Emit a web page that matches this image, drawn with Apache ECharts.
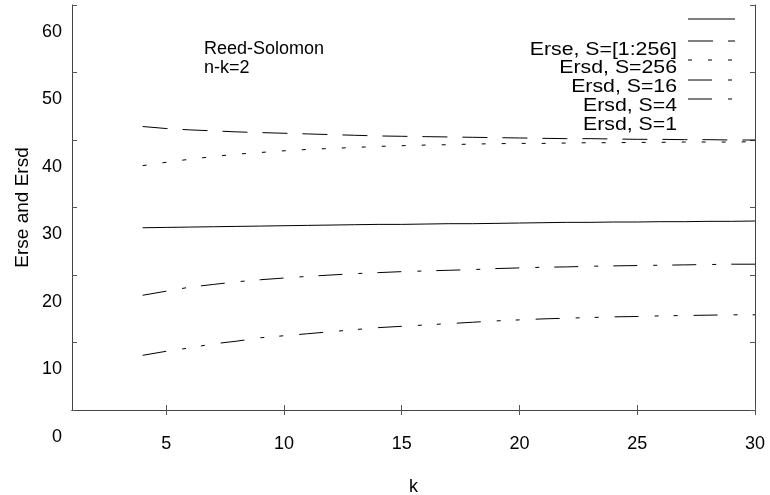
<!DOCTYPE html>
<html>
<head>
<meta charset="utf-8">
<script src="https://cdn.jsdelivr.net/npm/echarts@6/dist/echarts.min.js"></script>
<style>
html,body{margin:0;padding:0;background:#fff;}
#chart{width:770px;height:495px;}
</style>
</head>
<body>
<div id="chart"></div>
<script>
// ---- data ----
const kValues = [4,5,6,7,8,9,10,11,12,13,14,15,16,17,18,19,20,21,22,23,24,25,26,27,28,29,30];
const erseAll = [27.0,27.05,27.1,27.15,27.2,27.25,27.3,27.35,27.4,27.45,27.5,27.5,27.55,27.6,27.6,27.65,27.7,27.75,27.8,27.8,27.85,27.85,27.9,27.9,27.95,27.95,28.0];
const ersdS256 = [42.0,41.7,41.5,41.35,41.2,41.1,41.0,40.9,40.8,40.7,40.6,40.55,40.5,40.45,40.4,40.35,40.3,40.25,40.2,40.2,40.15,40.1,40.1,40.05,40.05,40.0,40.0];
const ersdS16 = [36.2,36.7,37.15,37.55,37.9,38.15,38.4,38.6,38.75,38.9,39.05,39.15,39.25,39.3,39.4,39.45,39.5,39.5,39.55,39.6,39.6,39.65,39.65,39.7,39.7,39.7,39.75];
const ersdS4 = [17.0,17.6,18.2,18.6,19.0,19.3,19.55,19.8,20.0,20.2,20.35,20.5,20.6,20.7,20.8,20.95,21.05,21.15,21.2,21.3,21.35,21.4,21.45,21.5,21.55,21.6,21.6];
const ersdS1 = [8.1,8.7,9.2,9.8,10.2,10.7,11.0,11.3,11.6,11.9,12.2,12.4,12.6,12.8,13.0,13.2,13.35,13.5,13.6,13.7,13.8,13.85,13.95,14.0,14.05,14.1,14.1];
const seriesNames = ['Erse, S=[1:256]','Ersd, S=256','Ersd, S=16','Ersd, S=4','Ersd, S=1'];
const xTicks = [5,10,15,20,25,30];
const yTicks = [0,10,20,30,40,50,60];
const annotation = ['Reed-Solomon','n-k=2'];
const xTitle = 'k';
const yTitle = 'Erse and Ersd';

// ---- styles ----
const FONT = '"Liberation Sans", Arial, sans-serif';
const FS = 18;       // axis numbers and annotation
const TFS = 18.5;    // legend texts (horizontally stretched)
const SX = 1.15;
const dashes = ['solid',[25,15],[4,16],[24,16,4,15],[24,16,4,15,4,16]];
const allData = [erseAll, ersdS256, ersdS16, ersdS4, ersdS1];

const chart = echarts.init(document.getElementById('chart'), null, {renderer:'canvas'});

const borderLine = {show:true, lineStyle:{color:'#444', width:1}};
const tickIn = {show:true, inside:true, length:5, lineStyle:{color:'#555', width:1}};

const series = allData.map((arr,i)=>({
  name: seriesNames[i],
  type:'line',
  xAxisIndex:0, yAxisIndex:0,
  data: kValues.map((k,j)=>[k,arr[j]]),
  showSymbol:false,
  symbol:'none',
  lineStyle:{color:'#000', width:1, type:dashes[i]},
  animation:false,
  silent:true
}));

// legend drawn as graphic (text rows shifted like the original)
const legendGraphics = [];
const sampleY = [19,41,60,80,99];
const textY = [50,68,87,106,125];
for (let i=0;i<5;i++){
  legendGraphics.push({
    type:'line', silent:true,
    shape:{x1:688,y1:sampleY[i],x2:735,y2:sampleY[i]},
    style:{stroke:'#000', lineWidth:1, lineDash: i===0?null:dashes[i]}
  });
  legendGraphics.push({
    type:'text', silent:true,
    x:677, y:textY[i], scaleX:SX,
    style:{text:seriesNames[i], font: TFS+'px '+FONT, fill:'#000', textAlign:'right', textVerticalAlign:'middle'}
  });
}
legendGraphics.push({
  type:'text', silent:true, x:204, y:49,
  style:{text:annotation[0], font: FS+'px '+FONT, fill:'#000', textAlign:'left', textVerticalAlign:'middle'}
});
legendGraphics.push({
  type:'text', silent:true, x:204, y:68,
  style:{text:annotation[1], font: FS+'px '+FONT, fill:'#000', textAlign:'left', textVerticalAlign:'middle'}
});

const option = {
  backgroundColor:'#fff',
  animation:false,
  grid:[
    {left:72, right:15, top:5, bottom:85, containLabel:false, outerBoundsMode:'none'},
    {left:72, right:15, top:32, bottom:58, containLabel:false, outerBoundsMode:'none'}
  ],
  xAxis:[{
    type:'value', min:1, max:30, position:'bottom', gridIndex:0,
    name:xTitle, nameLocation:'middle', nameGap:68,
    nameTextStyle:{fontFamily:FONT, fontSize:FS, color:'#000'},
    axisLine:borderLine,
    axisTick:Object.assign({customValues:xTicks}, tickIn),
    axisLabel:{customValues:xTicks, margin:25, fontFamily:FONT, fontSize:FS, color:'#000'},
    splitLine:{show:false}
  },{
    type:'value', min:1, max:30, position:'top', gridIndex:0,
    axisLine:borderLine,
    axisTick:Object.assign({customValues:xTicks}, tickIn),
    axisLabel:{show:false},
    splitLine:{show:false}
  },{
    type:'value', min:1, max:30, gridIndex:1, show:false
  }],
  yAxis:[{
    type:'value', min:0, max:60, interval:10, position:'left', gridIndex:0,
    name:yTitle, nameLocation:'middle', nameGap:40, nameRotate:90,
    nameTextStyle:{fontFamily:FONT, fontSize:19, color:'#000'},
    axisLine:borderLine,
    axisTick:tickIn,
    axisLabel:{show:false},
    splitLine:{show:false}
  },{
    type:'value', min:0, max:60, interval:10, position:'right', gridIndex:0,
    axisLine:borderLine,
    axisTick:tickIn,
    axisLabel:{show:false},
    splitLine:{show:false}
  },{
    type:'value', min:0, max:60, interval:10, position:'left', gridIndex:1,
    axisLine:{show:false}, axisTick:{show:false}, splitLine:{show:false},
    axisLabel:{customValues:yTicks, margin:10, fontFamily:FONT, fontSize:FS, color:'#000'}
  }],
  series: series,
  graphic: legendGraphics
};
chart.setOption(option);
</script>
</body>
</html>
